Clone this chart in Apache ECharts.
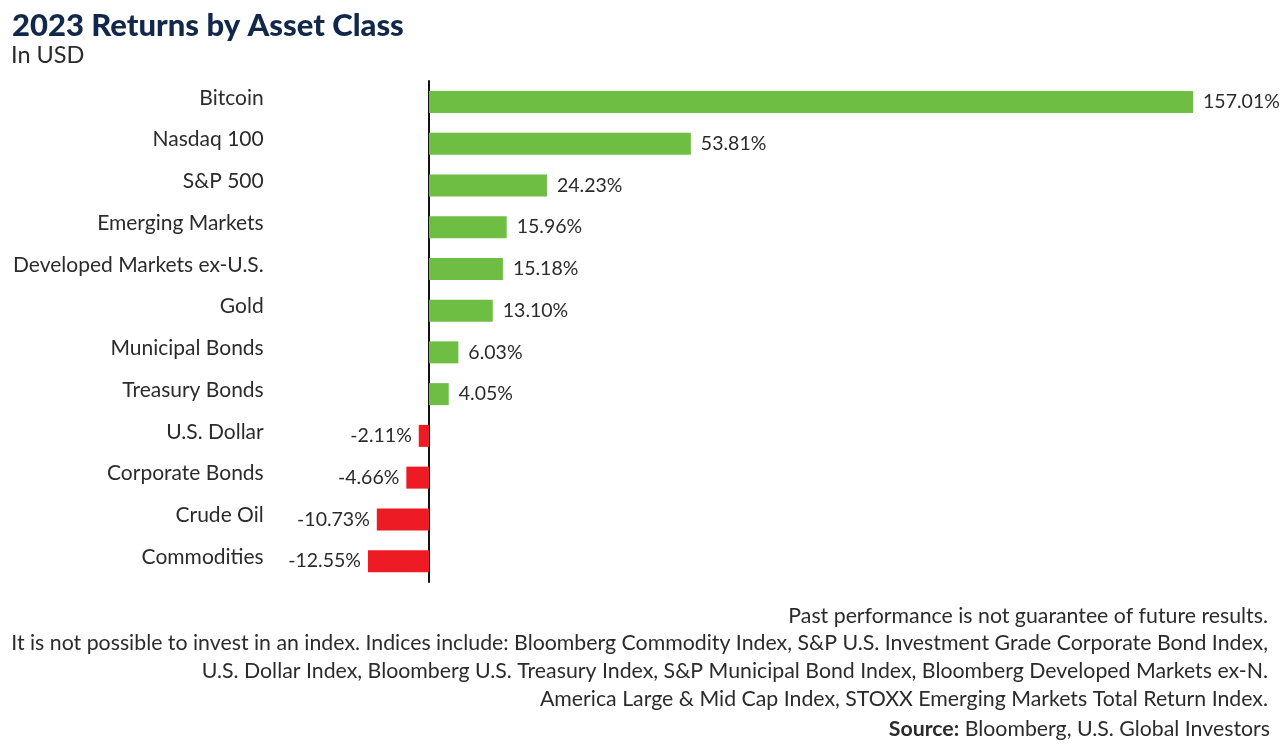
<!DOCTYPE html>
<html>
<head>
<meta charset="utf-8">
<title>2023 Returns by Asset Class</title>
<script src="https://cdn.jsdelivr.net/npm/echarts@6/dist/echarts.min.js"></script>
<style>
  html, body { margin: 0; padding: 0; background: #fff; }
  #chart { width: 1280px; height: 746px; }
</style>
</head>
<body>
<div id="chart"></div>
<script>
const categories = ['Bitcoin', 'Nasdaq 100', 'S&P 500', 'Emerging Markets', 'Developed Markets ex-U.S.', 'Gold',
  'Municipal Bonds', 'Treasury Bonds', 'U.S. Dollar', 'Corporate Bonds', 'Crude Oil', 'Commodities'];
const returns = [157.01, 53.81, 24.23, 15.96, 15.18, 13.10, 6.03, 4.05, -2.11, -4.66, -10.73, -12.55];
const footerLines = [
  'Past performance is not guarantee of future results.',
  'It is not possible to invest in an index. Indices include: Bloomberg Commodity Index, S&P U.S. Investment Grade Corporate Bond Index,',
  'U.S. Dollar Index, Bloomberg U.S. Treasury Index, S&P Municipal Bond Index, Bloomberg Developed Markets ex-N.',
  'America Large & Mid Cap Index, STOXX Emerging Markets Total Return Index.'
];
const footerTops = [606, 633, 661, 689];

const font = 'Lato';
const ink = '#2b2b2b';

const chart = echarts.init(document.getElementById('chart'), null, { renderer: 'canvas' });

const titles = [
  { text: '2023 Returns by Asset Class', left: 12, top: 10, padding: 0,
    textStyle: { fontFamily: font, fontSize: 31, fontWeight: 900, color: '#12284b' } },
  { text: 'In USD', left: 11, top: 43, padding: 0,
    textStyle: { fontFamily: font, fontSize: 23.5, fontWeight: 400, color: ink } }
];
footerLines.forEach((line, i) => {
  titles.push({ text: line, right: 12, top: footerTops[i], padding: 0,
    textStyle: { fontFamily: font, fontSize: 21.3, fontWeight: 400, color: ink } });
});
titles.push({ text: '{b|Source:} {r|Bloomberg, U.S. Global Investors}', right: 10, top: 719, padding: 0,
  textStyle: { fontFamily: font, fontSize: 21.3, fontWeight: 400, color: ink,
    rich: {
      b: { fontFamily: font, fontSize: 21.3, fontWeight: 700, color: ink },
      r: { fontFamily: font, fontSize: 21.3, fontWeight: 400, color: ink }
    } } });

chart.setOption({
  animation: false,
  title: titles,
  grid: { left: 331.7, right: 72.4, top: 81, bottom: 164, outerBoundsMode: 'none' },
  xAxis: {
    type: 'value',
    min: -20,
    max: 160,
    show: false
  },
  yAxis: {
    type: 'category',
    data: categories,
    inverse: true,
    axisLine: { onZero: true, lineStyle: { color: '#111', width: 2 } },
    axisTick: { show: false },
    axisLabel: {
      margin: 68,
      color: ink,
      fontFamily: font,
      fontSize: 21,
      verticalAlign: 'bottom',
      lineHeight: 8
    }
  },
  series: [{
    type: 'bar',
    barWidth: 22,
    data: returns.map(v => ({
      value: v,
      itemStyle: { color: v < 0 ? '#ed1c24' : '#6fbe44' },
      label: { position: v < 0 ? 'left' : 'right', distance: v < 0 ? 7 : 10 }
    })),
    label: {
      show: true,
      color: ink,
      fontFamily: font,
      fontSize: 19.5,
      formatter: p => p.value.toFixed(2) + '%'
    }
  }]
});
</script>
</body>
</html>
